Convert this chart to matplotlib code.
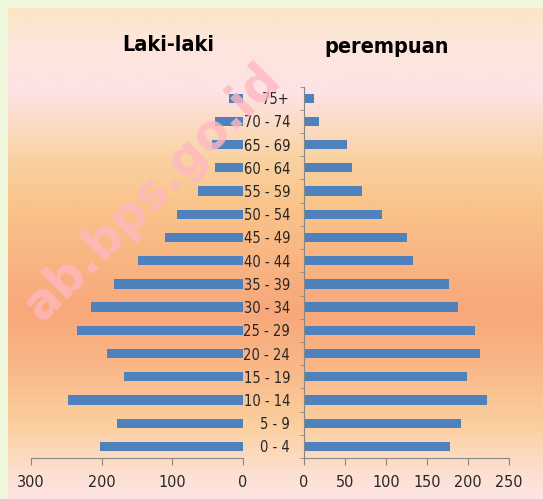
import numpy as np
import matplotlib.pyplot as plt
from matplotlib.colors import LinearSegmentedColormap
from matplotlib import font_manager

# data (ribu jiwa)
umur = ['0 - 4', '5 - 9', '10 - 14', '15 - 19', '20 - 24', '25 - 29', '30 - 34', '35 - 39',
        '40 - 44', '45 - 49', '50 - 54', '55 - 59', '60 - 64', '65 - 69', '70 - 74', '75+']
laki = [203, 179, 247, 169, 192, 235, 215, 183, 148, 111, 94, 64, 40, 44, 40, 20]
perempuan = [178, 192, 223, 199, 215, 209, 188, 177, 133, 126, 95, 71, 59, 52, 18, 12]

# narrow font if there is one
stretch = 'normal'
path = font_manager.findfont(font_manager.FontProperties(family='DejaVu Sans', stretch='condensed'))
if 'Condensed' in path:
    family = ['DejaVu Sans']
    stretch = 'condensed'
else:
    family = ['Liberation Sans', 'DejaVu Sans']
plt.rcParams['font.family'] = family
plt.rcParams['font.stretch'] = stretch

biru = '#4f81bd'
abu = '#868686'

fig = plt.figure(figsize=(5.43, 4.99), dpi=100)
fig.patch.set_facecolor('#eef6dc')

# background panel with gradient
bg = fig.add_axes([8/543, 0, 1 - 8/543, 1 - 8/499], zorder=-1)
warna = [(0.0, '#fae6c4'), (0.07, '#fde6dc'), (0.17, '#fde3e6'), (0.3, '#fad3a4'),
         (0.4, '#f9c48a'), (0.55, '#f9b080'), (0.62, '#f8a87a'), (0.72, '#f9b586'),
         (0.85, '#fbcf9e'), (0.95, '#fde0d0'), (1.0, '#fde4e4')]
cmap = LinearSegmentedColormap.from_list('bg', warna)
bg.imshow(np.linspace(0, 1, 256).reshape(-1, 1), cmap=cmap, aspect='auto', extent=[0, 1, 1, 0])
bg.set_axis_off()

y = np.arange(len(umur))
bawah = 1 - 458/499
tinggi = (458 - 86.6)/499

ax1 = fig.add_axes([31/543, bawah, 212/543, tinggi])
ax2 = fig.add_axes([304/543, bawah, 205/543, tinggi])

for ax in (ax1, ax2):
    ax.set_facecolor('none')
    ax.set_ylim(-0.5, len(umur) - 0.5)
    for s in ['top', 'right', 'left']:
        ax.spines[s].set_visible(False)
    ax.spines['bottom'].set_color(abu)
    ax.tick_params(axis='x', colors=abu, length=5, labelsize=11.5, labelcolor='#262626', pad=7)

ax1.barh(y, laki, height=0.4, color=biru)
ax1.set_xlim(300, 0)
ax1.set_xticks([300, 200, 100, 0])
ax1.set_yticks([])

ax2.barh(y, perempuan, height=0.4, color=biru)
ax2.set_xlim(0, 250)
ax2.set_xticks([0, 50, 100, 150, 200, 250])
ax2.spines['left'].set_visible(True)
ax2.spines['left'].set_color(abu)
ax2.set_yticks(y)
ax2.set_yticklabels(umur)
ax2.set_yticks(np.arange(-0.5, len(umur)), minor=True)
ax2.tick_params(axis='y', which='major', length=0, pad=10, labelsize=10.5, labelcolor='#262626')
ax2.tick_params(axis='y', which='minor', length=3, color=abu)

fig.text(168/543, 1 - 45/499, 'Laki-laki', ha='center', va='center', fontsize=15.5,
         fontweight='bold', color='black')
fig.text(387/543, 1 - 47/499, 'perempuan', ha='center', va='center', fontsize=15.5,
         fontweight='bold', color='black')

# watermark
fig.text(163/543, 1 - 202/499, 'ab.bps.go.id', ha='center', va='baseline', rotation=45,
         rotation_mode='anchor', fontsize=35, fontweight='bold', color='#ffb8c0', alpha=0.8,
         family=['DejaVu Sans'], stretch='normal')

fig.savefig('out.png', dpi=100)
